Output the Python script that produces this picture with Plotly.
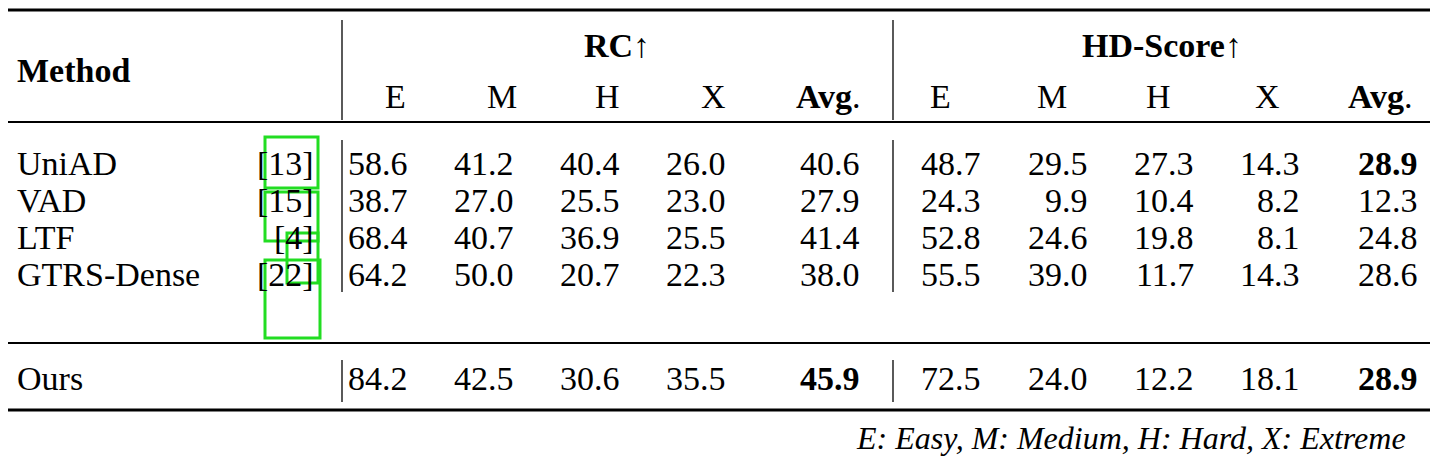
import plotly.graph_objects as go

methods = ["UniAD", "VAD", "LTF", "GTRS-Dense"]
cites = ["13", "15", "4", "22"]
sub_cols = ["E", "M", "H", "X", "Avg."]
rc = [[58.6, 41.2, 40.4, 26.0, 40.6],
      [38.7, 27.0, 25.5, 23.0, 27.9],
      [68.4, 40.7, 36.9, 25.5, 41.4],
      [64.2, 50.0, 20.7, 22.3, 38.0]]
hd = [[48.7, 29.5, 27.3, 14.3, 28.9],
      [24.3, 9.9, 10.4, 8.2, 12.3],
      [52.8, 24.6, 19.8, 8.1, 24.8],
      [55.5, 39.0, 11.7, 14.3, 28.6]]
ours_rc = [84.2, 42.5, 30.6, 35.5, 45.9]
ours_hd = [72.5, 24.0, 12.2, 18.1, 28.9]
bold_cells = {("hd", 0, 4), ("rc", "ours", 4), ("hd", "ours", 4)}
footnote = "E: Easy, M: Medium, H: Hard, X: Extreme"

W, H = 1438, 465
OFF = 8  # page body margin
FONT = "Liberation Serif"
FS = 34
col_right = [410, 516, 622, 728, 862, 983, 1090, 1196, 1302, 1420]
head_center = [395, 502, 607, 713, 828, 940, 1052, 1158, 1267, 1380]
row_y = [163, 200, 237, 274]
ours_y = 378

fig = go.Figure()
fig.add_trace(go.Scatter(x=[OFF, W], y=[OFF, H], mode="markers", marker=dict(opacity=0), hoverinfo="skip", showlegend=False))
ann = []
def t(x, y, s, anchor="left", bold=False, italic=False, size=FS):
    if bold: s = f"<b>{s}</b>"
    if italic: s = f"<i>{s}</i>"
    ann.append(dict(x=x, y=y, xref="x", yref="y", text=s, showarrow=False, xanchor=anchor, yanchor="middle",
                    font=dict(family=FONT, size=size, color="black")))

t(15, 70, "Method", bold=True)
t(617, 45, "RC↑", "center", bold=True)
t(1162, 45, "HD-Score↑", "center", bold=True)
for i, c in enumerate(sub_cols * 2):
    s = "<b>Avg</b>." if c == "Avg." else c
    t(head_center[i], 96, s, "center")

def fmt(v): return f"{v:.1f}"
for r, m in enumerate(methods):
    t(15, row_y[r], m)
    t(316, row_y[r], f"[{cites[r]}]", "right")
    for j in range(5):
        t(col_right[j], row_y[r], fmt(rc[r][j]), "right", bold=("rc", r, j) in bold_cells)
        t(col_right[5 + j], row_y[r], fmt(hd[r][j]), "right", bold=("hd", r, j) in bold_cells)
t(15, ours_y, "Ours")
for j in range(5):
    t(col_right[j], ours_y, fmt(ours_rc[j]), "right", bold=("rc", "ours", j) in bold_cells)
    t(col_right[5 + j], ours_y, fmt(ours_hd[j]), "right", bold=("hd", "ours", j) in bold_cells)
t(1408, 438, footnote, "right", italic=True, size=32)

shapes = []
def hl(y, w):
    shapes.append(dict(type="line", xref="x", yref="y", x0=OFF, x1=W + OFF, y0=y, y1=y, line=dict(color="black", width=w)))
def vl(x, y0, y1):
    shapes.append(dict(type="line", xref="x", yref="y", x0=x, x1=x, y0=y0, y1=y1, line=dict(color="black", width=1.3)))
hl(10, 3); hl(122, 1.8); hl(343, 1.8); hl(410, 3)
for x in (342, 893):
    vl(x, 20, 120); vl(x, 140, 292); vl(x, 360, 402)
boxes = [(265, 318, 137, 188), (265, 318, 192, 241), (287, 318, 233, 283), (265, 320, 260, 338)]
for x0, x1, y0, y1 in boxes:
    shapes.append(dict(type="rect", xref="x", yref="y", x0=x0, x1=x1, y0=y0, y1=y1, line=dict(color="#22dd22", width=3)))

fig.update_layout(width=W, height=H, margin=dict(l=0, r=0, t=0, b=0), plot_bgcolor="white", paper_bgcolor="white",
                  annotations=ann, shapes=shapes,
                  xaxis=dict(range=[OFF, W + OFF], visible=False, fixedrange=True),
                  yaxis=dict(range=[H + OFF, OFF], visible=False, fixedrange=True))
fig.write_html("out.html")
